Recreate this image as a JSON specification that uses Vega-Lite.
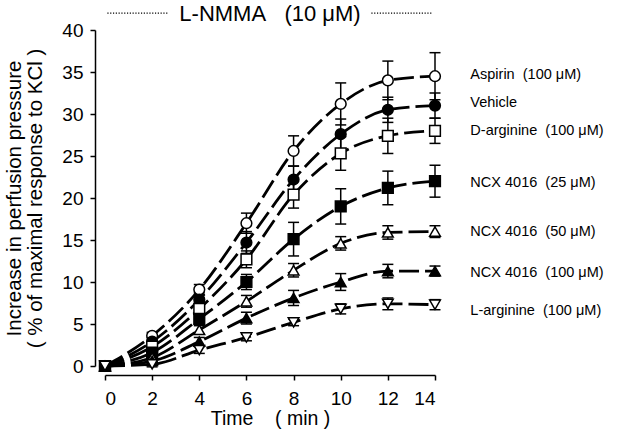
{
  "$schema": "https://vega.github.io/schema/vega-lite/v6.json",
  "width": 330,
  "height": 336,
  "autosize": {"type": "none"},
  "padding": {"left": 105, "top": 30, "right": 205, "bottom": 77},
  "background": "white",
  "config": {
    "aria": false,
    "view": {"stroke": null},
    "font": "Liberation Sans",
    "style": {"guide-title": {"lineBreak": "\n"}},
    "axis": {"domainColor": "black", "domainWidth": 1.5, "tickColor": "black", "tickWidth": 1.5, "tickSize": 5, "labelColor": "black", "titleColor": "black", "labelFontSize": 19, "titleFontSize": 20.5, "titleFontWeight": "normal", "grid": false}
  },
  "datasets": {
    "pts": [
      {"series": "Aspirin", "t": 0, "v": 0, "lo": -0.3, "hi": 0.3}, {"series": "Aspirin", "t": 2, "v": 3.6, "lo": 3.2, "hi": 4.0}, {"series": "Aspirin", "t": 4, "v": 9.1, "lo": 8.5, "hi": 9.7}, {"series": "Aspirin", "t": 6, "v": 17.0, "lo": 15.8, "hi": 18.2}, {"series": "Aspirin", "t": 8, "v": 25.6, "lo": 23.8, "hi": 27.4}, {"series": "Aspirin", "t": 10, "v": 31.2, "lo": 28.7, "hi": 33.7}, {"series": "Aspirin", "t": 12, "v": 34.0, "lo": 31.7, "hi": 36.3}, {"series": "Aspirin", "t": 14, "v": 34.5, "lo": 31.7, "hi": 37.3},
      {"series": "Vehicle", "t": 0, "v": 0, "lo": -0.3, "hi": 0.3}, {"series": "Vehicle", "t": 2, "v": 2.9, "lo": 2.4, "hi": 3.4}, {"series": "Vehicle", "t": 4, "v": 7.9, "lo": 7.1, "hi": 8.7}, {"series": "Vehicle", "t": 6, "v": 14.7, "lo": 13.4, "hi": 16.0}, {"series": "Vehicle", "t": 8, "v": 22.2, "lo": 20.6, "hi": 23.8}, {"series": "Vehicle", "t": 10, "v": 27.6, "lo": 25.8, "hi": 29.4}, {"series": "Vehicle", "t": 12, "v": 30.5, "lo": 29.0, "hi": 32.0}, {"series": "Vehicle", "t": 14, "v": 31.0, "lo": 29.5, "hi": 32.5},
      {"series": "D-arginine", "t": 0, "v": 0, "lo": -0.3, "hi": 0.3}, {"series": "D-arginine", "t": 2, "v": 2.3, "lo": 1.9, "hi": 2.7}, {"series": "D-arginine", "t": 4, "v": 6.8, "lo": 6.1, "hi": 7.5}, {"series": "D-arginine", "t": 6, "v": 12.7, "lo": 11.7, "hi": 13.7}, {"series": "D-arginine", "t": 8, "v": 20.4, "lo": 18.8, "hi": 22.0}, {"series": "D-arginine", "t": 10, "v": 25.3, "lo": 23.3, "hi": 27.3}, {"series": "D-arginine", "t": 12, "v": 27.4, "lo": 25.3, "hi": 29.5}, {"series": "D-arginine", "t": 14, "v": 28.0, "lo": 26.5, "hi": 29.5},
      {"series": "NCX25", "t": 0, "v": 0, "lo": -0.3, "hi": 0.3}, {"series": "NCX25", "t": 2, "v": 1.6, "lo": 1.2, "hi": 2.0}, {"series": "NCX25", "t": 4, "v": 5.6, "lo": 5.0, "hi": 6.2}, {"series": "NCX25", "t": 6, "v": 10.0, "lo": 9.1, "hi": 10.9}, {"series": "NCX25", "t": 8, "v": 15.1, "lo": 13.1, "hi": 17.1}, {"series": "NCX25", "t": 10, "v": 19.0, "lo": 16.9, "hi": 21.1}, {"series": "NCX25", "t": 12, "v": 21.2, "lo": 19.2, "hi": 23.2}, {"series": "NCX25", "t": 14, "v": 22.0, "lo": 20.1, "hi": 23.9},
      {"series": "NCX50", "t": 0, "v": 0, "lo": -0.3, "hi": 0.3}, {"series": "NCX50", "t": 2, "v": 1.0, "lo": 0.7, "hi": 1.3}, {"series": "NCX50", "t": 4, "v": 4.3, "lo": 3.8, "hi": 4.8}, {"series": "NCX50", "t": 6, "v": 7.7, "lo": 7.0, "hi": 8.4}, {"series": "NCX50", "t": 8, "v": 11.4, "lo": 10.6, "hi": 12.2}, {"series": "NCX50", "t": 10, "v": 14.6, "lo": 13.8, "hi": 15.4}, {"series": "NCX50", "t": 12, "v": 15.9, "lo": 15.1, "hi": 16.7}, {"series": "NCX50", "t": 14, "v": 16.0, "lo": 15.3, "hi": 16.7},
      {"series": "NCX100", "t": 0, "v": 0, "lo": -0.3, "hi": 0.3}, {"series": "NCX100", "t": 2, "v": 0.6, "lo": 0.3, "hi": 0.9}, {"series": "NCX100", "t": 4, "v": 2.9, "lo": 2.4, "hi": 3.4}, {"series": "NCX100", "t": 6, "v": 5.7, "lo": 5.0, "hi": 6.4}, {"series": "NCX100", "t": 8, "v": 8.1, "lo": 7.2, "hi": 9.0}, {"series": "NCX100", "t": 10, "v": 10.0, "lo": 9.0, "hi": 11.0}, {"series": "NCX100", "t": 12, "v": 11.3, "lo": 10.5, "hi": 12.1}, {"series": "NCX100", "t": 14, "v": 11.3, "lo": 10.7, "hi": 11.9},
      {"series": "L-arginine", "t": 0, "v": 0, "lo": -0.3, "hi": 0.3}, {"series": "L-arginine", "t": 2, "v": 0.2, "lo": -0.1, "hi": 0.5}, {"series": "L-arginine", "t": 4, "v": 1.9, "lo": 1.5, "hi": 2.3}, {"series": "L-arginine", "t": 6, "v": 3.4, "lo": 3.0, "hi": 3.8}, {"series": "L-arginine", "t": 8, "v": 5.2, "lo": 4.8, "hi": 5.6}, {"series": "L-arginine", "t": 10, "v": 6.8, "lo": 6.2, "hi": 7.4}, {"series": "L-arginine", "t": 12, "v": 7.4, "lo": 6.7, "hi": 8.1}, {"series": "L-arginine", "t": 14, "v": 7.3, "lo": 6.7, "hi": 7.9}
    ],
    "labels": [
      {"label": "Aspirin\u00a0\u00a0(100 μM)", "t": 15.5, "v": 34.6},
      {"label": "Vehicle", "t": 15.5, "v": 31.3},
      {"label": "D-arginine\u00a0\u00a0(100 μM)", "t": 15.5, "v": 28.0},
      {"label": "NCX 4016\u00a0\u00a0(25 μM)", "t": 15.5, "v": 21.8},
      {"label": "NCX 4016\u00a0\u00a0(50 μM)", "t": 15.5, "v": 16.0},
      {"label": "NCX 4016\u00a0\u00a0(100 μM)", "t": 15.5, "v": 11.1},
      {"label": "L-arginine\u00a0\u00a0(100 μM)", "t": 15.5, "v": 6.5}
    ],
    "bar": [
      {"t0": 0.1, "t1": 2.65, "v": 42.0},
      {"t0": 11.3, "t1": 13.9, "v": 42.0}
    ],
    "head": [{"label": "L-NMMA\u00a0\u00a0\u00a0(10 μM)", "t": 7.0, "v": 41.9}]
  },
  "layer": [
    {
      "data": {"name": "pts"},
      "mark": {"type": "line", "strokeDash": [20, 6], "strokeWidth": 2.8, "interpolate": "monotone", "color": "black", "aria": false},
      "encoding": {
        "x": {"field": "t", "type": "quantitative", "scale": {"domain": [0, 14], "nice": false}, "axis": {"values": [0, 2, 4, 6, 8, 10, 12, 14], "offset": 9, "title": "Time\u00a0\u00a0\u00a0\u00a0( min )", "titleFontSize": 19.5, "titlePadding": 1, "labelPadding": 9}},
        "y": {"field": "v", "type": "quantitative", "scale": {"domain": [0, 40], "nice": false}, "axis": {"values": [0, 5, 10, 15, 20, 25, 30, 35, 40], "offset": 10, "title": "Increase in perfusion pressure\n( % of maximal response to KCl )", "titlePadding": 16, "titleLineHeight": 21, "labelPadding": 7}},
        "detail": {"field": "series"}
      }
    },
    {
      "data": {"name": "pts"},
      "mark": {"type": "rule", "strokeWidth": 1.5, "color": "black", "aria": false},
      "encoding": {
        "x": {"field": "t", "type": "quantitative", "title": "Time\u00a0\u00a0\u00a0\u00a0( min )"},
        "y": {"field": "lo", "type": "quantitative", "title": "Increase in perfusion pressure\n( % of maximal response to KCl )"},
        "y2": {"field": "hi"}
      }
    },
    {
      "data": {"name": "pts"},
      "mark": {"type": "tick", "orient": "horizontal", "size": 11, "thickness": 1.5, "color": "black", "opacity": 1, "aria": false},
      "encoding": {
        "x": {"field": "t", "type": "quantitative", "title": "Time\u00a0\u00a0\u00a0\u00a0( min )"},
        "y": {"field": "lo", "type": "quantitative", "title": "Increase in perfusion pressure\n( % of maximal response to KCl )"}
      }
    },
    {
      "data": {"name": "pts"},
      "mark": {"type": "tick", "orient": "horizontal", "size": 11, "thickness": 1.5, "color": "black", "opacity": 1, "aria": false},
      "encoding": {
        "x": {"field": "t", "type": "quantitative", "title": "Time\u00a0\u00a0\u00a0\u00a0( min )"},
        "y": {"field": "hi", "type": "quantitative", "title": "Increase in perfusion pressure\n( % of maximal response to KCl )"}
      }
    },
    {
      "data": {"name": "pts"},
      "mark": {"type": "point", "size": 115, "strokeWidth": 1.5, "stroke": "black", "opacity": 1, "filled": true, "aria": false},
      "encoding": {
        "x": {"field": "t", "type": "quantitative"},
        "y": {"field": "v", "type": "quantitative"},
        "shape": {"field": "series", "type": "nominal", "legend": null, "scale": {"domain": ["Aspirin", "Vehicle", "D-arginine", "NCX25", "NCX50", "NCX100", "L-arginine"], "range": ["circle", "circle", "square", "square", "triangle-up", "triangle-up", "triangle-down"]}},
        "fill": {"field": "series", "type": "nominal", "legend": null, "scale": {"domain": ["Aspirin", "Vehicle", "D-arginine", "NCX25", "NCX50", "NCX100", "L-arginine"], "range": ["white", "black", "white", "black", "white", "black", "white"]}}
      }
    },
    {
      "data": {"name": "labels"},
      "mark": {"type": "text", "align": "left", "baseline": "middle", "fontSize": 14.5, "color": "black", "aria": false},
      "encoding": {
        "x": {"field": "t", "type": "quantitative"},
        "y": {"field": "v", "type": "quantitative"},
        "text": {"field": "label"}
      }
    },
    {
      "data": {"name": "bar"},
      "mark": {"type": "rule", "strokeDash": [1.2, 1.6], "strokeWidth": 1.2, "color": "black", "aria": false},
      "encoding": {
        "x": {"field": "t0", "type": "quantitative"},
        "x2": {"field": "t1"},
        "y": {"field": "v", "type": "quantitative"}
      }
    },
    {
      "data": {"name": "head"},
      "mark": {"type": "text", "align": "center", "baseline": "middle", "fontSize": 22, "color": "black", "aria": false},
      "encoding": {
        "x": {"field": "t", "type": "quantitative"},
        "y": {"field": "v", "type": "quantitative"},
        "text": {"field": "label"}
      }
    }
  ]
}
